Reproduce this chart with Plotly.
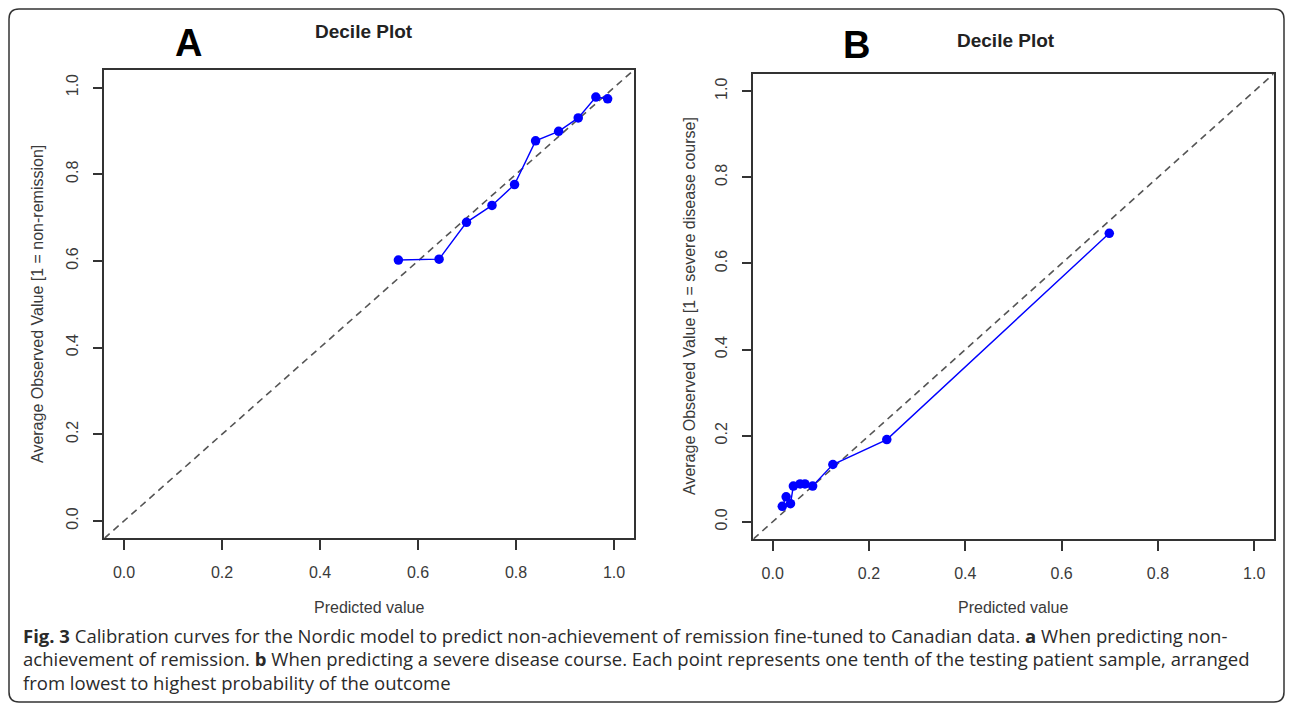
import plotly.graph_objects as go

# ---- data ----
a_pred = [0.560, 0.643, 0.699, 0.751, 0.797, 0.840, 0.887, 0.927, 0.963, 0.987]
a_obs = [0.602, 0.604, 0.689, 0.728, 0.776, 0.877, 0.899, 0.930, 0.978, 0.974]
b_pred = [0.020, 0.028, 0.037, 0.043, 0.057, 0.067, 0.083, 0.125, 0.237, 0.699]
b_obs = [0.036, 0.058, 0.042, 0.083, 0.088, 0.088, 0.083, 0.133, 0.191, 0.670]
tick_vals = [0.0, 0.2, 0.4, 0.6, 0.8, 1.0]
tick_text = ["0.0", "0.2", "0.4", "0.6", "0.8", "1.0"]
axis_range = [-0.04, 1.04]

# page body has an 8px margin; figure sized to fit the 1293x711 window
OFF = 8
FW, FH = 1293 - 2 * OFF, 711 - 2 * OFF
def px(x):
    return (x - OFF) / FW
def py(y):
    return 1 - (y - OFF) / FH

BLUE = "#0000ff"
AX = "#333333"
TXT = "#3a3a3a"
FONT = "Liberation Sans"

fig = go.Figure()

for xa, ya, xs, ys in [("x", "y", a_pred, a_obs), ("x2", "y2", b_pred, b_obs)]:
    fig.add_trace(go.Scatter(x=axis_range, y=axis_range, mode="lines", xaxis=xa, yaxis=ya,
                             line=dict(color="#555555", width=1.6, dash="7px,5px"),
                             showlegend=False, hoverinfo="skip"))
    fig.add_trace(go.Scatter(x=xs, y=ys, mode="lines+markers", xaxis=xa, yaxis=ya,
                             line=dict(color=BLUE, width=1.4),
                             marker=dict(color=BLUE, size=9.5),
                             showlegend=False))

def axstyle(domain, vertical=False):
    d = dict(domain=domain, range=axis_range, tickvals=tick_vals, ticktext=tick_text,
             ticks="outside", ticklen=10, tickwidth=1.5, tickcolor=AX,
             showline=True, mirror=True, linecolor=AX, linewidth=1.5,
             showgrid=False, zeroline=False, fixedrange=True,
             tickfont=dict(family=FONT, size=16, color=TXT))
    if vertical:
        d["tickangle"] = -90
        d["ticklabelstandoff"] = 8
    else:
        d["ticklabelstandoff"] = 9
    return d

fig.update_layout(
    width=FW, height=FH, autosize=False,
    margin=dict(l=0, r=0, t=0, b=0),
    paper_bgcolor="white", plot_bgcolor="white",
    xaxis=axstyle([px(104.4), px(633.6)]),
    yaxis=axstyle([py(538.3), py(70.2)], vertical=True),
    xaxis2=axstyle([px(753.4), px(1273.5)]),
    yaxis2=axstyle([py(539.0), py(74.0)], vertical=True),
)
fig.layout.xaxis.anchor = "y"
fig.layout.yaxis.anchor = "x"
fig.layout.xaxis2.anchor = "y2"
fig.layout.yaxis2.anchor = "x2"

ann = []
def text(x, y, s, size, bold=False, color=TXT, angle=0, family=FONT, xanchor="center"):
    ann.append(dict(x=px(x), y=py(y), xref="paper", yref="paper", text=(f"<b>{s}</b>" if bold else s),
                    showarrow=False, textangle=angle, xanchor=xanchor, yanchor="middle",
                    font=dict(family=family, size=size, color=color)))

# panel letters and titles
text(188, 43, "A", 38, bold=True, color="#000000")
text(857, 45, "B", 38, bold=True, color="#000000")
text(364, 32, "Decile Plot", 19, bold=True, color="#222222")
text(1006, 41, "Decile Plot", 19, bold=True, color="#222222")
# axis titles
text(369, 607, "Predicted value", 16)
text(1013, 607, "Predicted value", 16)
text(38, 304, "Average Observed Value [1 = non-remission]", 16, angle=-90)
text(690, 306, "Average Observed Value [1 = severe disease course]", 16, angle=-90)

# caption
CAP = "Open Sans"
cap_lines = [
    "<b>Fig. 3</b> Calibration curves for the Nordic model to predict non-achievement of remission fine-tuned to Canadian data. <b>a</b> When predicting non-",
    "achievement of remission. <b>b</b> When predicting a severe disease course. Each point represents one tenth of the testing patient sample, arranged",
    "from lowest to highest probability of the outcome",
]
for i, line in enumerate(cap_lines):
    ann.append(dict(x=px(21), y=py(635 + 23.5 * i), xref="paper", yref="paper", text=line,
                    showarrow=False, xanchor="left", yanchor="middle",
                    font=dict(family=CAP, size=18.5, color="#2a2a2a")))

fig.update_layout(annotations=ann)

# rounded outer frame
x0, y0, x1, y1 = px(9), py(9), px(1284), py(702)
rx, ry = 10 / FW, 10 / FH
path = (f"M {x0+rx},{y0} L {x1-rx},{y0} Q {x1},{y0} {x1},{y0-ry} "
        f"L {x1},{y1+ry} Q {x1},{y1} {x1-rx},{y1} L {x0+rx},{y1} Q {x0},{y1} {x0},{y1+ry} "
        f"L {x0},{y0-ry} Q {x0},{y0} {x0+rx},{y0} Z")
fig.add_shape(type="path", path=path, xref="paper", yref="paper",
              line=dict(color="#333333", width=1.5), fillcolor="rgba(0,0,0,0)")

fig.write_html("out.html")
